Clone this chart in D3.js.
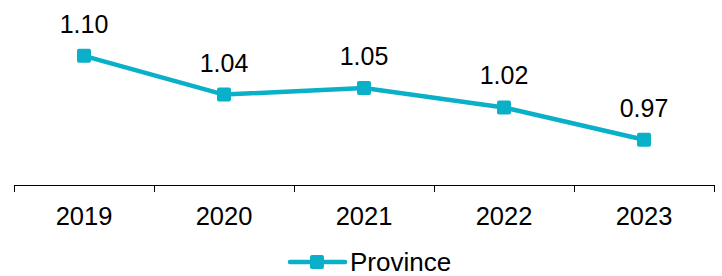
<!DOCTYPE html>
<html>
<head>
<meta charset="utf-8">
<script src="https://cdn.jsdelivr.net/npm/d3@7"></script>
<style>
  body { margin: 0; background: #fff; }
  text { font-family: "Liberation Sans", Arial, sans-serif; fill: #000; }
</style>
</head>
<body>
<svg id="chart"></svg>
<script>
const years = ["2019", "2020", "2021", "2022", "2023"];
const province = [1.10, 1.04, 1.05, 1.02, 0.97];
const seriesName = "Province";

const width = 722, height = 276;
const color = "#0AB0C7";

const svg = d3.select("#chart")
    .attr("width", width)
    .attr("height", height);

const x = d3.scaleBand()
    .domain(years)
    .range([14, 714]);

const y = d3.scaleLinear()
    .domain([0.9, 1.2])
    .range([185, 185 - 0.3 * 646]);

// axis line with ticks between categories
const axisG = svg.append("g");
axisG.append("line")
    .attr("x1", 14).attr("x2", 714)
    .attr("y1", 185.5).attr("y2", 185.5)
    .attr("stroke", "#000").attr("stroke-width", 1);

const edges = years.map(d => x(d)).concat([x(years[years.length - 1]) + x.bandwidth()]);
axisG.selectAll(".tick")
    .data(edges)
    .join("line")
    .attr("x1", d => Math.round(d) + 0.5).attr("x2", d => Math.round(d) + 0.5)
    .attr("y1", 185).attr("y2", 192)
    .attr("stroke", "#000").attr("stroke-width", 1);

axisG.selectAll(".yr")
    .data(years)
    .join("text")
    .attr("x", d => x(d) + x.bandwidth() / 2)
    .attr("y", 225)
    .attr("text-anchor", "middle")
    .attr("font-size", 25.5)
    .text(d => d);

const pts = years.map((d, i) => ({ year: d, v: province[i] }));

svg.append("path")
    .datum(pts)
    .attr("fill", "none")
    .attr("stroke", color)
    .attr("stroke-width", 4.5)
    .attr("stroke-linejoin", "round")
    .attr("d", d3.line().x(d => x(d.year) + x.bandwidth() / 2).y(d => y(d.v)));

svg.selectAll(".marker")
    .data(pts)
    .join("rect")
    .attr("x", d => x(d.year) + x.bandwidth() / 2 - 7)
    .attr("y", d => y(d.v) - 7)
    .attr("width", 14).attr("height", 14)
    .attr("rx", 2)
    .attr("fill", color);

svg.selectAll(".lbl")
    .data(pts)
    .join("text")
    .attr("x", d => x(d.year) + x.bandwidth() / 2)
    .attr("y", d => y(d.v) - 23)
    .attr("text-anchor", "middle")
    .attr("font-size", 25)
    .text(d => d.v.toFixed(2));

// legend
const lg = svg.append("g");
lg.append("line")
    .attr("x1", 290).attr("x2", 345)
    .attr("y1", 262).attr("y2", 262)
    .attr("stroke", color).attr("stroke-width", 4.5)
    .attr("stroke-linecap", "round");
lg.append("rect")
    .attr("x", 310).attr("y", 255)
    .attr("width", 14).attr("height", 14)
    .attr("rx", 2)
    .attr("fill", color);
lg.append("text")
    .attr("x", 350).attr("y", 271)
    .attr("font-size", 26)
    .text(seriesName);
</script>
</body>
</html>
